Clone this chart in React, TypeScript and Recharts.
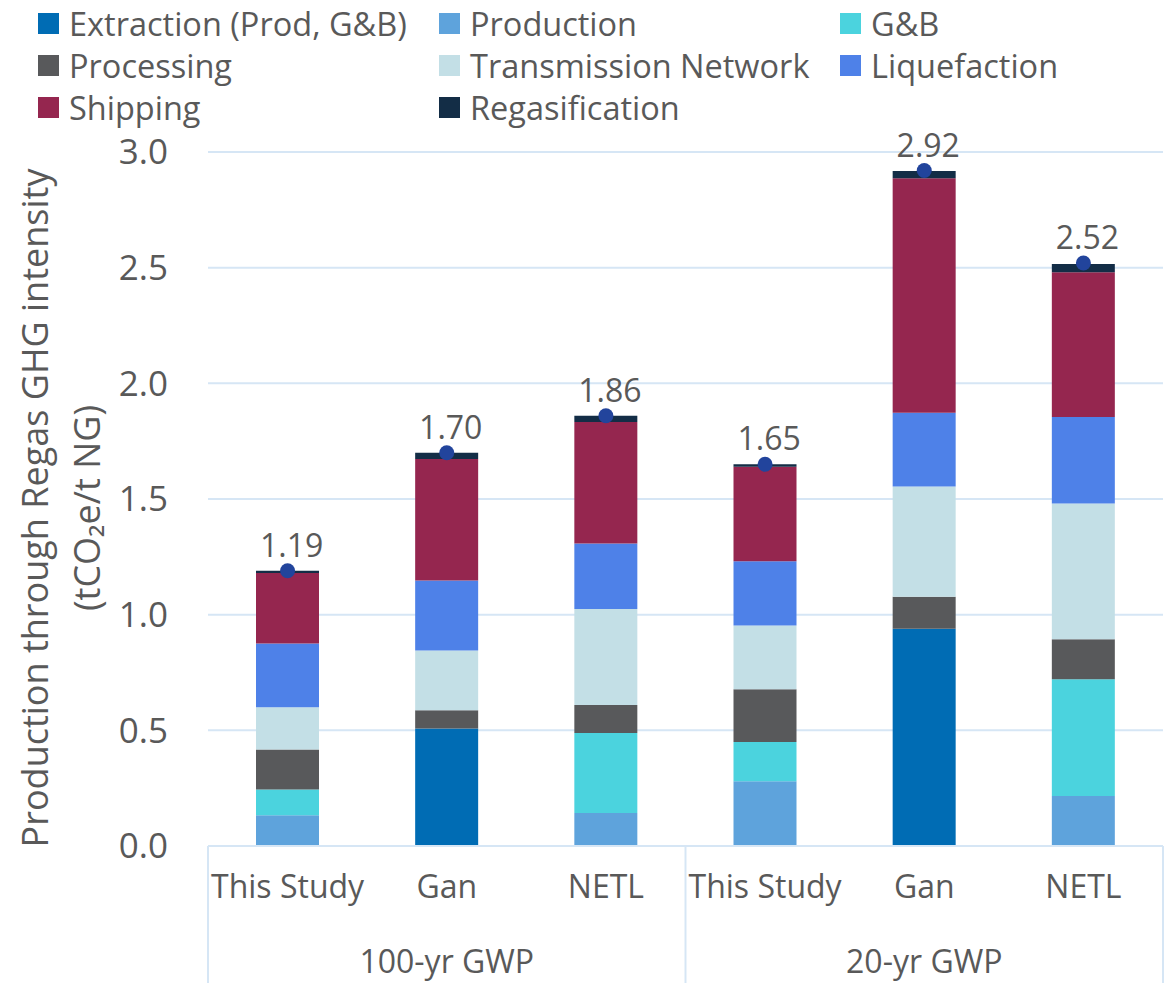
import {
  ComposedChart,
  Bar,
  Line,
  XAxis,
  YAxis,
  CartesianGrid,
  LabelList,
} from "recharts";

// Categories and groups (two-level x axis)
const categories = ["This Study", "Gan", "NETL", "This Study", "Gan", "NETL"];
const groups = ["100-yr GWP", "20-yr GWP"];

// Stacked segments, tCO2e/t NG
const extraction = [0, 0.508, 0, 0, 0.939, 0];
const production = [0.133, 0, 0.143, 0.28, 0, 0.216];
const gathering = [0.111, 0, 0.346, 0.17, 0, 0.505];
const processing = [0.173, 0.079, 0.121, 0.228, 0.138, 0.173];
const transmission = [0.183, 0.258, 0.414, 0.275, 0.477, 0.587];
const liquefaction = [0.275, 0.303, 0.284, 0.278, 0.319, 0.373];
const shipping = [0.305, 0.525, 0.525, 0.408, 1.014, 0.626];
const regasification = [0.01, 0.027, 0.027, 0.011, 0.031, 0.036];
const totals = [1.19, 1.7, 1.86, 1.65, 2.92, 2.52];

const yTicks = [0, 0.5, 1, 1.5, 2, 2.5, 3];

const series = [
  { key: "extraction", name: "Extraction (Prod, G&B)", color: "#006cb4", values: extraction },
  { key: "production", name: "Production", color: "#5ea3dc", values: production },
  { key: "gathering", name: "G&B", color: "#4bd3de", values: gathering },
  { key: "processing", name: "Processing", color: "#58595b", values: processing },
  { key: "transmission", name: "Transmission Network", color: "#c3dfe6", values: transmission },
  { key: "liquefaction", name: "Liquefaction", color: "#4e81e8", values: liquefaction },
  { key: "shipping", name: "Shipping", color: "#95264f", values: shipping },
  { key: "regasification", name: "Regasification", color: "#132d46", values: regasification },
];

// legend is laid out row by row in 3 columns
const legendOrder = [
  "extraction", "production", "gathering",
  "processing", "transmission", "liquefaction",
  "shipping", "regasification",
];

const data = categories.map((name, i) => {
  const row: Record<string, number | string> = { id: `${i}`, name, total: totals[i] };
  series.forEach((s) => (row[s.key] = s.values[i]));
  return row;
});

const FONT = "'Open Sans', sans-serif";
const TEXT = "#595959";
const GRID = "#d6e6f5";

const W = 1167;
const H = 983;
const PLOT_LEFT = 208;
const PLOT_RIGHT = 1163;
const BAND = (PLOT_RIGHT - PLOT_LEFT) / categories.length;

function CategoryTick(props: any) {
  const { x, y, index } = props;
  const left = x - BAND / 2;
  const right = x + BAND / 2;
  return (
    <g>
      <text x={x} y={y + 52} textAnchor="middle" fill={TEXT} fontSize={32} fontFamily={FONT}>
        {categories[index]}
      </text>
      {index % 3 === 0 && (
        <line x1={left} x2={left} y1={y} y2={y + 137} stroke={GRID} strokeWidth={2} />
      )}
      {index === categories.length - 1 && (
        <line x1={right} x2={right} y1={y} y2={y + 137} stroke={GRID} strokeWidth={2} />
      )}
      {index % 3 === 1 && (
        <text x={x} y={y + 127} textAnchor="middle" fill={TEXT} fontSize={32} fontFamily={FONT}>
          {groups[Math.floor(index / 3)]}
        </text>
      )}
    </g>
  );
}

function YTitle(props: any) {
  const { viewBox } = props;
  const cy = viewBox.y + viewBox.height / 2 + 9;
  return (
    <g fill={TEXT} fontSize={36} fontFamily={FONT}>
      <text x={48} y={cy} textAnchor="middle" transform={`rotate(-90, 48, ${cy})`}>
        Production through Regas GHG intensity
      </text>
      <text x={100} y={cy} textAnchor="middle" transform={`rotate(-90, 100, ${cy})`}>
        (tCO₂e/t NG)
      </text>
    </g>
  );
}

function TotalLabel(props: any) {
  const { x, y, value } = props;
  return (
    <text x={x + 4} y={y - 14} textAnchor="middle" fill={TEXT} fontSize={32} fontFamily={FONT}>
      {Number(value).toFixed(2)}
    </text>
  );
}

function LegendBlock() {
  const colX = [38, 439, 840];
  const rowY = [23, 65, 107];
  return (
    <>
      {legendOrder.map((key, i) => {
        const s = series.find((d) => d.key === key)!;
        const cx = colX[i % 3];
        const cy = rowY[Math.floor(i / 3)];
        return (
          <div
            key={key}
            style={{
              position: "absolute",
              left: cx,
              top: cy - 22,
              height: 44,
              display: "flex",
              alignItems: "center",
              fontFamily: FONT,
              fontSize: 32.5,
              color: TEXT,
              whiteSpace: "nowrap",
            }}
          >
            <span style={{ width: 21, height: 21, background: s.color, marginRight: 10 }} />
            {s.name}
          </div>
        );
      })}
    </>
  );
}

export default function App() {
  return (
    <div style={{ position: "absolute", left: 0, top: 0, width: W, height: H, background: "#fff" }}>
      <ComposedChart
        width={W}
        height={H}
        data={data}
        margin={{ top: 152, right: W - PLOT_RIGHT, bottom: 0, left: 0 }}
      >
        <CartesianGrid vertical={false} stroke={GRID} strokeWidth={2} />
        <XAxis
          dataKey="id"
          height={H - 846}
          axisLine={{ stroke: GRID, strokeWidth: 2 }}
          tickLine={false}
          tickSize={0}
          tickMargin={0}
          interval={0}
          tick={<CategoryTick />}
        />
        <YAxis
          domain={[0, 3]}
          ticks={yTicks}
          width={PLOT_LEFT}
          axisLine={false}
          tickLine={false}
          tickSize={0}
          tickMargin={40}
          tickFormatter={(v: number) => v.toFixed(1)}
          tick={{ fill: TEXT, fontSize: 35, fontFamily: FONT }}
          label={{ content: <YTitle /> }}
        />
        {series.map((s) => (
          <Bar
            key={s.key}
            dataKey={s.key}
            name={s.name}
            stackId="ghg"
            fill={s.color}
            barSize={63}
            isAnimationActive={false}
          />
        ))}
        <Line
          dataKey="total"
          stroke="none"
          dot={{ r: 7.5, fill: "#22449c", stroke: "none" }}
          activeDot={false}
          isAnimationActive={false}
        >
          <LabelList dataKey="total" content={<TotalLabel />} />
        </Line>
      </ComposedChart>
      <LegendBlock />
    </div>
  );
}
